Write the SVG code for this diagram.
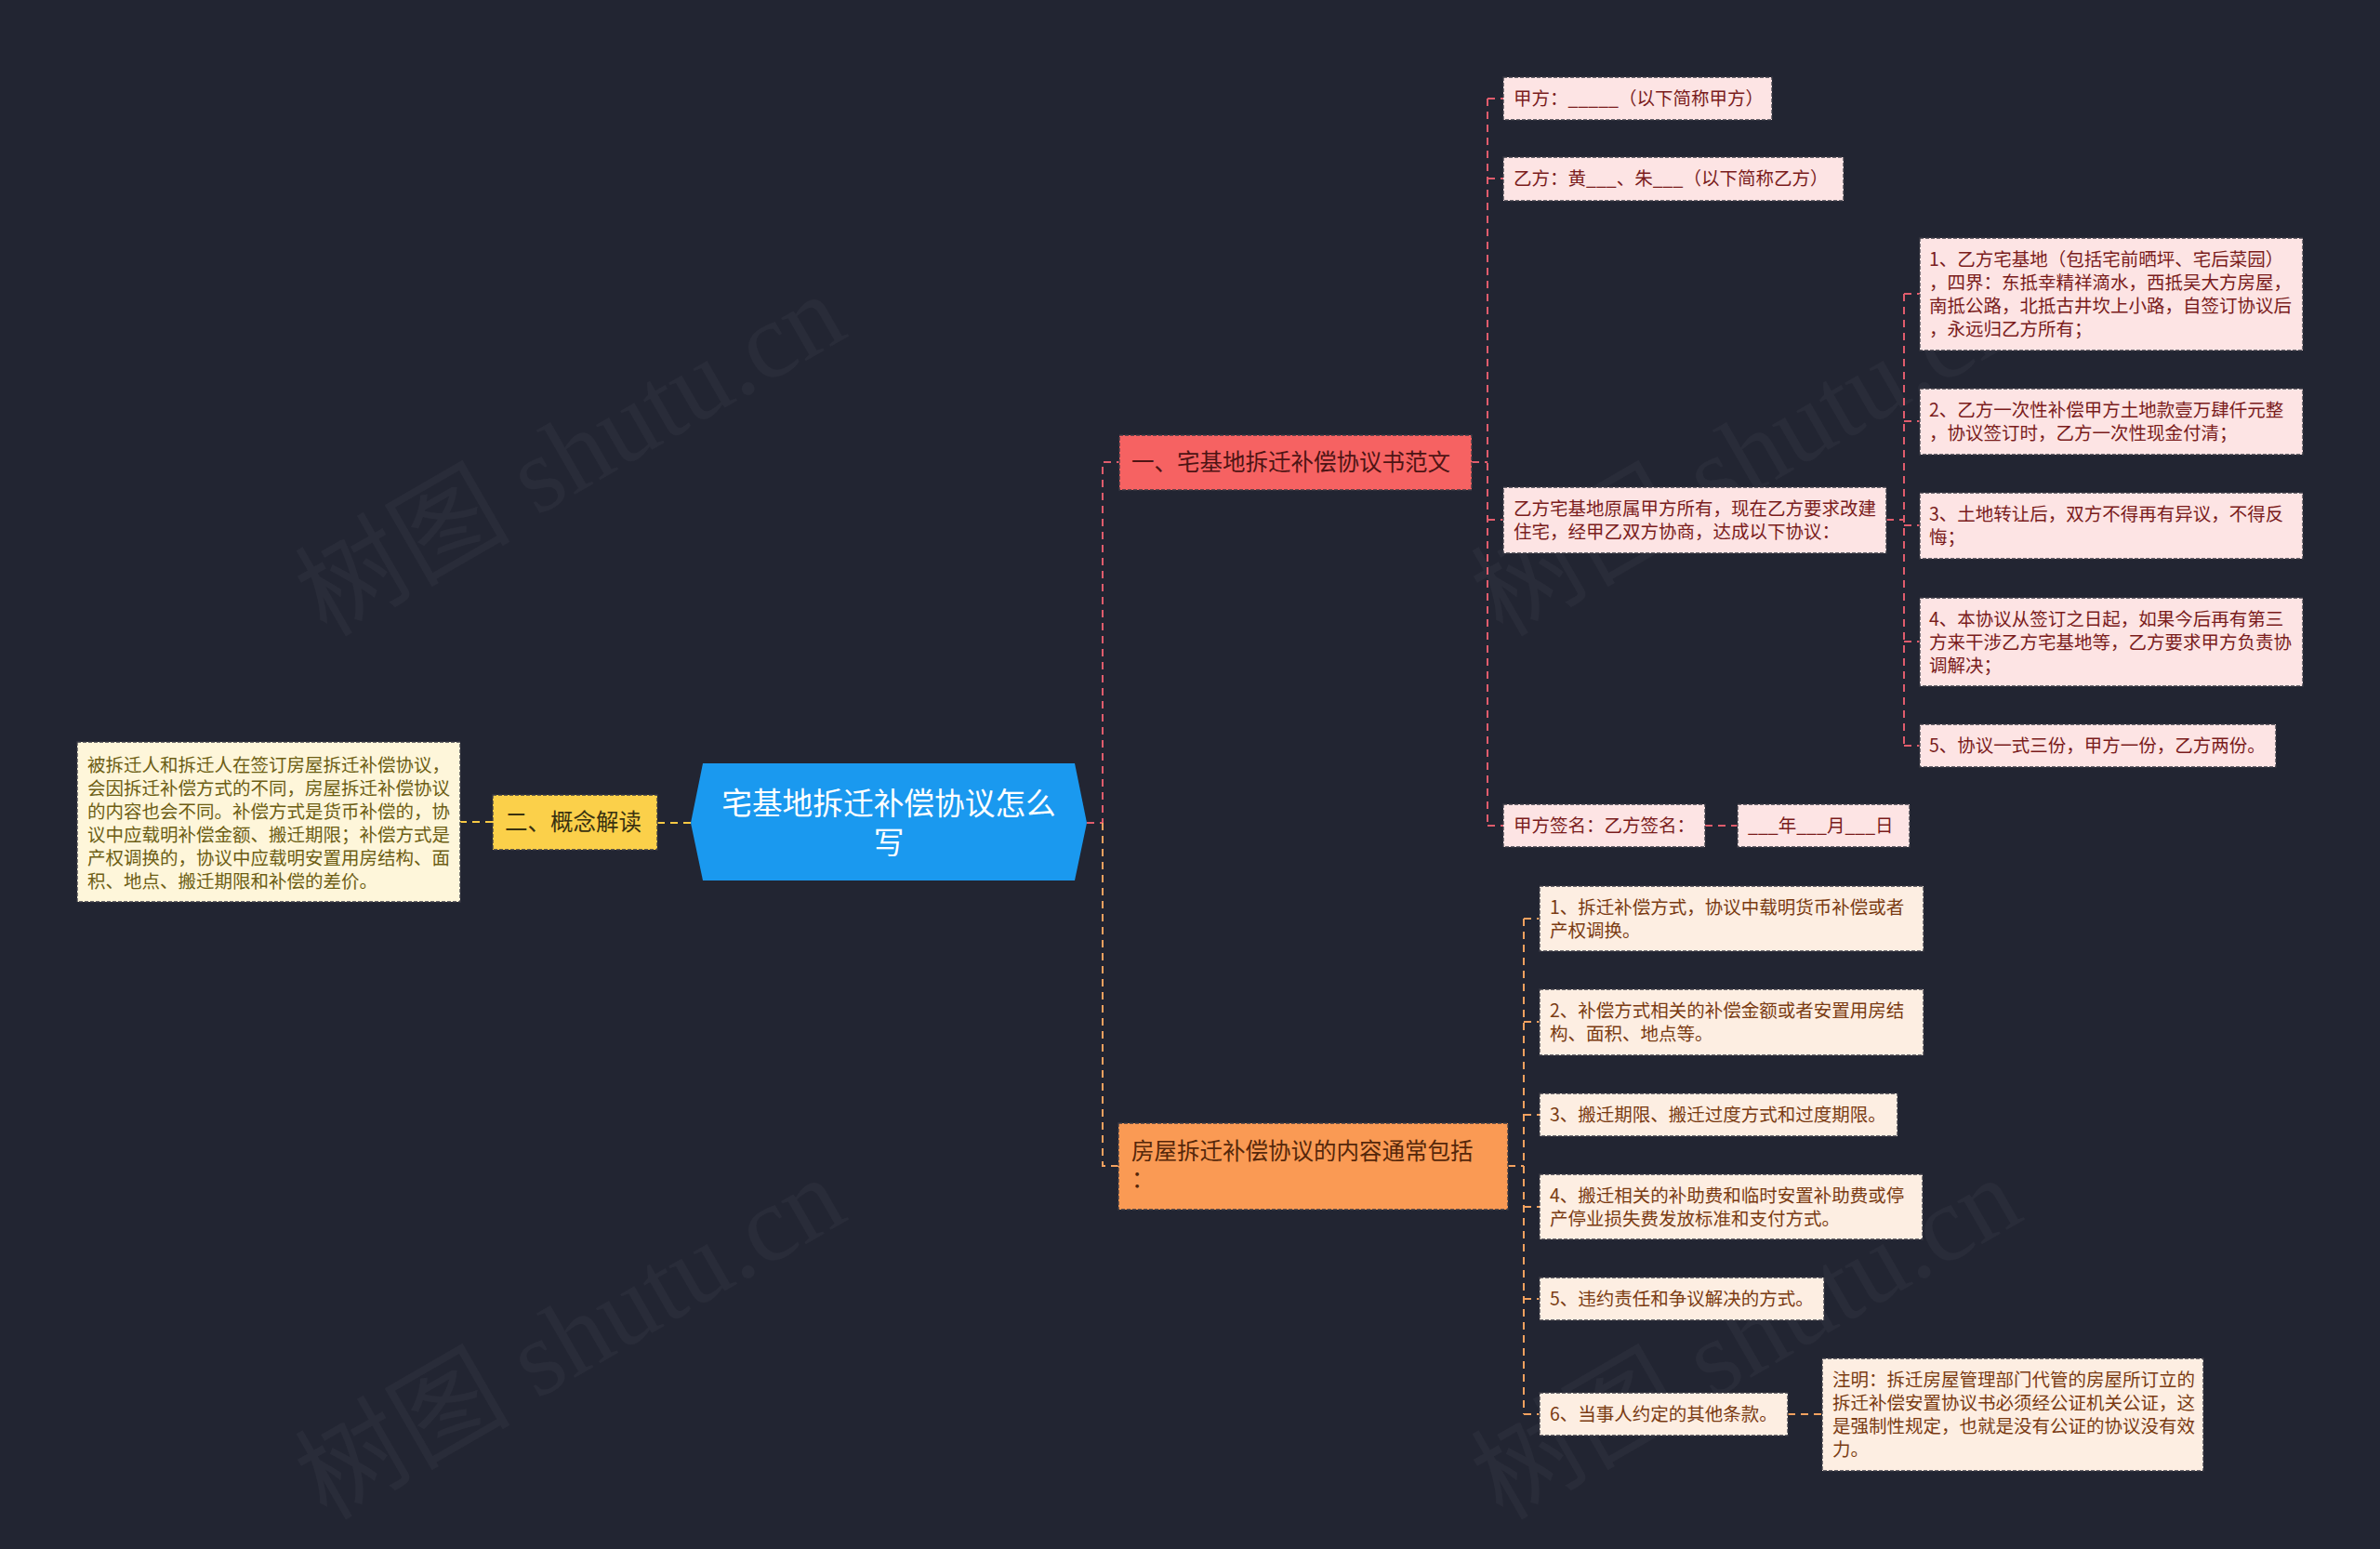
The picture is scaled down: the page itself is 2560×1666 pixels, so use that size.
<svg xmlns="http://www.w3.org/2000/svg" width="2560" height="1666" viewBox="0 0 2560 1666">
<style>
.bg{fill:#222532}
.wm{font-family:"Liberation Serif","Noto Sans CJK SC",serif;font-size:116px;fill:#ffffff;fill-opacity:0.035}
.t{font-family:"Noto Sans CJK SC","Noto Sans",sans-serif}
.leaf{font-size:19.5px}
.main{font-size:24.5px}
.bd{stroke:#3a3a44;stroke-width:1.3;stroke-dasharray:4 2}
.rn{fill:#f66262}
.rnt{fill:#4e1414}
.rl{fill:#fde4e4}
.rlt{fill:#7a1c1c}
.on{fill:#fa9a54}
.ont{fill:#55270a}
.ol{fill:#fdeee2}
.olt{fill:#7a3b12}
.yn{fill:#fbd04a}
.ynt{fill:#3a3210}
.yl{fill:#fef6da}
.ylt{fill:#6d5e14}
.cr{fill:none;stroke:#e05c6c;stroke-width:2;stroke-dasharray:8 6}
.co{fill:none;stroke:#f2a15f;stroke-width:2;stroke-dasharray:8 6}
.cy{fill:none;stroke:#f6c843;stroke-width:2;stroke-dasharray:8 6}
</style>
<rect class="bg" x="0" y="0" width="2560" height="1666"/>
<g id="watermarks">
<text class="wm" transform="translate(351,686) rotate(-30)">树图 shutu.cn</text>
<text class="wm" transform="translate(1616,686) rotate(-30)">树图 shutu.cn</text>
<text class="wm" transform="translate(351,1636) rotate(-30)">树图 shutu.cn</text>
<text class="wm" transform="translate(1616,1636) rotate(-30)">树图 shutu.cn</text>
</g>
<g id="connectors">
<path class="cy" d="M743 885 H707"/>
<path class="cy" d="M530 884 H495"/>
<path class="cr" d="M1169 885 H1186 V497 H1204"/>
<path class="co" d="M1186 885 V1254 H1203"/>
<path class="cr" d="M1583 497 H1600"/>
<path class="cr" d="M1600 106 V888"/>
<path class="cr" d="M1600 106 H1617 M1600 192 H1617 M1600 559 H1617 M1600 888 H1617"/>
<path class="cr" d="M2029 559 H2048"/>
<path class="cr" d="M2048 316 V802"/>
<path class="cr" d="M2048 316 H2065 M2048 453 H2065 M2048 565 H2065 M2048 690 H2065 M2048 802 H2065"/>
<path class="cr" d="M1834 888 H1869"/>
<path class="co" d="M1622 1254 H1639"/>
<path class="co" d="M1639 988 V1521"/>
<path class="co" d="M1639 988 H1656 M1639 1099 H1656 M1639 1199 H1656 M1639 1298 H1656 M1639 1397 H1656 M1639 1521 H1656"/>
<path class="co" d="M1923 1521 H1960"/>
</g>
<g id="center">
<polygon points="756,821 1156,821 1169,885 1156,947 756,947 743,885" fill="#1a99ef"/>
<text class="t" font-size="32.7" fill="#ffffff" text-anchor="middle" x="956" y="876">宅基地拆迁补偿协议怎么</text>
<text class="t" font-size="32.7" fill="#ffffff" text-anchor="middle" x="956" y="918">写</text>
</g>
<g id="n-yellow">
<rect class="yn bd" x="530" y="855" width="177" height="59"/>
<text class="t main ynt" x="543" y="893">二、概念解读</text>
</g>
<g id="n-yellow-text">
<rect class="yl bd" x="83" y="798" width="412" height="172"/>
<text class="t leaf ylt"><tspan x="94" y="830">被拆迁人和拆迁人在签订房屋拆迁补偿协议，</tspan><tspan x="94" y="855">会因拆迁补偿方式的不同，房屋拆迁补偿协议</tspan><tspan x="94" y="880">的内容也会不同。补偿方式是货币补偿的，协</tspan><tspan x="94" y="905">议中应载明补偿金额、搬迁期限；补偿方式是</tspan><tspan x="94" y="930">产权调换的，协议中应载明安置用房结构、面</tspan><tspan x="94" y="955">积、地点、搬迁期限和补偿的差价。</tspan></text>
</g>
<g id="n-red">
<rect class="rn bd" x="1204" y="468" width="379" height="59"/>
<text class="t main rnt" x="1217" y="506">一、宅基地拆迁补偿协议书范文</text>
</g>
<g id="n-r1">
<rect class="rl bd" x="1617" y="83" width="289" height="46"/>
<text class="t leaf rlt" x="1628" y="113">甲方：_____（以下简称甲方）</text>
</g>
<g id="n-r2">
<rect class="rl bd" x="1617" y="169" width="366" height="47"/>
<text class="t leaf rlt" x="1628" y="199">乙方：黄___、朱___（以下简称乙方）</text>
</g>
<g id="n-r3">
<rect class="rl bd" x="1617" y="524" width="412" height="71"/>
<text class="t leaf rlt"><tspan x="1628" y="554">乙方宅基地原属甲方所有，现在乙方要求改建</tspan><tspan x="1628" y="579">住宅，经甲乙双方协商，达成以下协议：</tspan></text>
</g>
<g id="n-r31">
<rect class="rl bd" x="2065" y="256" width="412" height="121"/>
<text class="t leaf rlt"><tspan x="2075" y="286">1、乙方宅基地（包括宅前晒坪、宅后菜园）</tspan><tspan x="2075" y="311">，四界：东抵幸精祥滴水，西抵吴大方房屋，</tspan><tspan x="2075" y="336">南抵公路，北抵古井坎上小路，自签订协议后</tspan><tspan x="2075" y="361">，永远归乙方所有；</tspan></text>
</g>
<g id="n-r32">
<rect class="rl bd" x="2065" y="418" width="412" height="71"/>
<text class="t leaf rlt"><tspan x="2075" y="448">2、乙方一次性补偿甲方土地款壹万肆仟元整</tspan><tspan x="2075" y="473">，协议签订时，乙方一次性现金付清；</tspan></text>
</g>
<g id="n-r33">
<rect class="rl bd" x="2065" y="530" width="412" height="71"/>
<text class="t leaf rlt"><tspan x="2075" y="560">3、土地转让后，双方不得再有异议，不得反</tspan><tspan x="2075" y="585">悔；</tspan></text>
</g>
<g id="n-r34">
<rect class="rl bd" x="2065" y="643" width="412" height="95"/>
<text class="t leaf rlt"><tspan x="2075" y="673">4、本协议从签订之日起，如果今后再有第三</tspan><tspan x="2075" y="698">方来干涉乙方宅基地等，乙方要求甲方负责协</tspan><tspan x="2075" y="723">调解决；</tspan></text>
</g>
<g id="n-r35">
<rect class="rl bd" x="2065" y="779" width="383" height="46"/>
<text class="t leaf rlt" x="2075" y="809">5、协议一式三份，甲方一份，乙方两份。</text>
</g>
<g id="n-r4">
<rect class="rl bd" x="1617" y="865" width="217" height="46"/>
<text class="t leaf rlt" x="1628" y="895">甲方签名：乙方签名：</text>
</g>
<g id="n-r41">
<rect class="rl bd" x="1869" y="865" width="185" height="46"/>
<text class="t leaf rlt" x="1880" y="895">___年___月___日</text>
</g>
<g id="n-orange">
<rect class="on bd" x="1203" y="1208" width="419" height="93"/>
<text class="t main ont"><tspan x="1217" y="1247">房屋拆迁补偿协议的内容通常包括</tspan><tspan x="1217" y="1277">：</tspan></text>
</g>
<g id="n-o1">
<rect class="ol bd" x="1656" y="953" width="413" height="70"/>
<text class="t leaf olt"><tspan x="1667" y="983">1、拆迁补偿方式，协议中载明货币补偿或者</tspan><tspan x="1667" y="1008">产权调换。</tspan></text>
</g>
<g id="n-o2">
<rect class="ol bd" x="1656" y="1064" width="413" height="71"/>
<text class="t leaf olt"><tspan x="1667" y="1094">2、补偿方式相关的补偿金额或者安置用房结</tspan><tspan x="1667" y="1119">构、面积、地点等。</tspan></text>
</g>
<g id="n-o3">
<rect class="ol bd" x="1656" y="1176" width="385" height="46"/>
<text class="t leaf olt" x="1667" y="1206">3、搬迁期限、搬迁过度方式和过度期限。</text>
</g>
<g id="n-o4">
<rect class="ol bd" x="1656" y="1263" width="412" height="70"/>
<text class="t leaf olt"><tspan x="1667" y="1293">4、搬迁相关的补助费和临时安置补助费或停</tspan><tspan x="1667" y="1318">产停业损失费发放标准和支付方式。</tspan></text>
</g>
<g id="n-o5">
<rect class="ol bd" x="1656" y="1374" width="306" height="46"/>
<text class="t leaf olt" x="1667" y="1404">5、违约责任和争议解决的方式。</text>
</g>
<g id="n-o6">
<rect class="ol bd" x="1656" y="1498" width="267" height="46"/>
<text class="t leaf olt" x="1667" y="1528">6、当事人约定的其他条款。</text>
</g>
<g id="n-o61">
<rect class="ol bd" x="1960" y="1461" width="410" height="121"/>
<text class="t leaf olt"><tspan x="1971" y="1491">注明：拆迁房屋管理部门代管的房屋所订立的</tspan><tspan x="1971" y="1516">拆迁补偿安置协议书必须经公证机关公证，这</tspan><tspan x="1971" y="1541">是强制性规定，也就是没有公证的协议没有效</tspan><tspan x="1971" y="1566">力。</tspan></text>
</g>
</svg>
